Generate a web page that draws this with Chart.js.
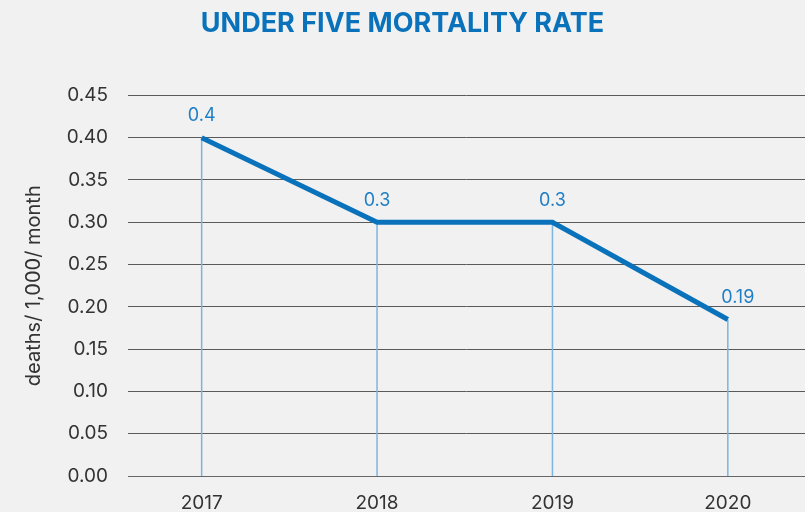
<!DOCTYPE html>
<html>
<head>
<meta charset="utf-8">
<script src="https://cdn.jsdelivr.net/npm/chart.js@4"></script>
<style>
  html, body { margin: 0; padding: 0; background: #f1f1f1; }
  #wrap { width: 805px; height: 512px; }
</style>
</head>
<body>
<div id="wrap"><canvas id="mortalityChart" width="805" height="512"></canvas></div>
<script>
const years = [2017, 2018, 2019, 2020];
const rates = [0.4, 0.3, 0.3, 0.185];
const rateLabels = ["0.4", "0.3", "0.3", "0.19"];
const yTicks = [0, 0.05, 0.1, 0.15, 0.2, 0.25, 0.3, 0.35, 0.4, 0.45];

const blue = "#0a72ba";
const lightBlue = "#7db4de";
const fontFamily = "Inter, 'Noto Sans', sans-serif";

// vertical drop lines and value labels
const dropLines = {
  id: "dropLines",
  beforeDatasetsDraw(chart) {
    const { ctx, chartArea } = chart;
    const meta = chart.getDatasetMeta(0);
    ctx.save();
    ctx.strokeStyle = lightBlue;
    ctx.lineWidth = 1.5;
    meta.data.forEach((pt) => {
      ctx.beginPath();
      ctx.moveTo(pt.x, pt.y);
      ctx.lineTo(pt.x, chartArea.bottom);
      ctx.stroke();
    });
    ctx.restore();
  },
  afterDatasetsDraw(chart) {
    const { ctx } = chart;
    const meta = chart.getDatasetMeta(0);
    ctx.save();
    ctx.fillStyle = "#1f7fc6";
    ctx.font = "18px " + fontFamily;
    ctx.textAlign = "center";
    ctx.textBaseline = "middle";
    meta.data.forEach((pt, i) => {
      ctx.fillText(rateLabels[i], pt.x + (i === 3 ? 10 : 0), pt.y - 22);
    });
    ctx.restore();
  },
};

const ctx = document.getElementById("mortalityChart").getContext("2d");

new Chart(ctx, {
  type: "line",
  data: {
    datasets: [
      {
        label: "Under five mortality rate",
        data: years.map((y, i) => ({ x: y, y: rates[i] })),
        borderColor: blue,
        borderWidth: 5,
        pointRadius: 0,
        tension: 0,
      },
    ],
  },
  options: {
    responsive: false,
    animation: false,
    layout: {
      padding: { top: 8, left: 0, right: 0, bottom: 0 },
    },
    plugins: {
      legend: { display: false },
      tooltip: { enabled: false },
      title: {
        display: true,
        text: "UNDER FIVE MORTALITY RATE",
        color: blue,
        font: { family: fontFamily, size: 27, weight: "bold" },
        padding: { top: 0, bottom: 55 },
      },
    },
    scales: {
      x: {
        type: "linear",
        min: 2016.58,
        max: 2020.44,
        afterBuildTicks: (scale) => {
          scale.ticks = years.map((v) => ({ value: v }));
        },
        afterFit: (scale) => {
          scale.height = 36;
        },
        ticks: {
          color: "#333",
          padding: 8,
          font: { family: fontFamily, size: 19 },
          callback: (v) => String(v),
        },
        grid: { display: false },
        border: { display: true, color: "#666", width: 1 },
      },
      y: {
        min: 0,
        max: 0.45,
        afterBuildTicks: (scale) => {
          scale.ticks = yTicks.map((v) => ({ value: v }));
        },
        afterFit: (scale) => {
          scale.width = 128;
        },
        ticks: {
          color: "#333",
          padding: 20,
          font: { family: fontFamily, size: 19 },
          callback: (v) => v.toFixed(2),
        },
        grid: { color: "#5a5a5a", lineWidth: 1, drawTicks: false },
        border: { display: false },
        title: {
          display: true,
          text: "deaths/ 1,000/ month",
          color: "#333",
          font: { family: fontFamily, size: 20 },
          padding: { top: 22, bottom: 0 },
        },
      },
    },
  },
  plugins: [dropLines],
});
</script>
</body>
</html>
